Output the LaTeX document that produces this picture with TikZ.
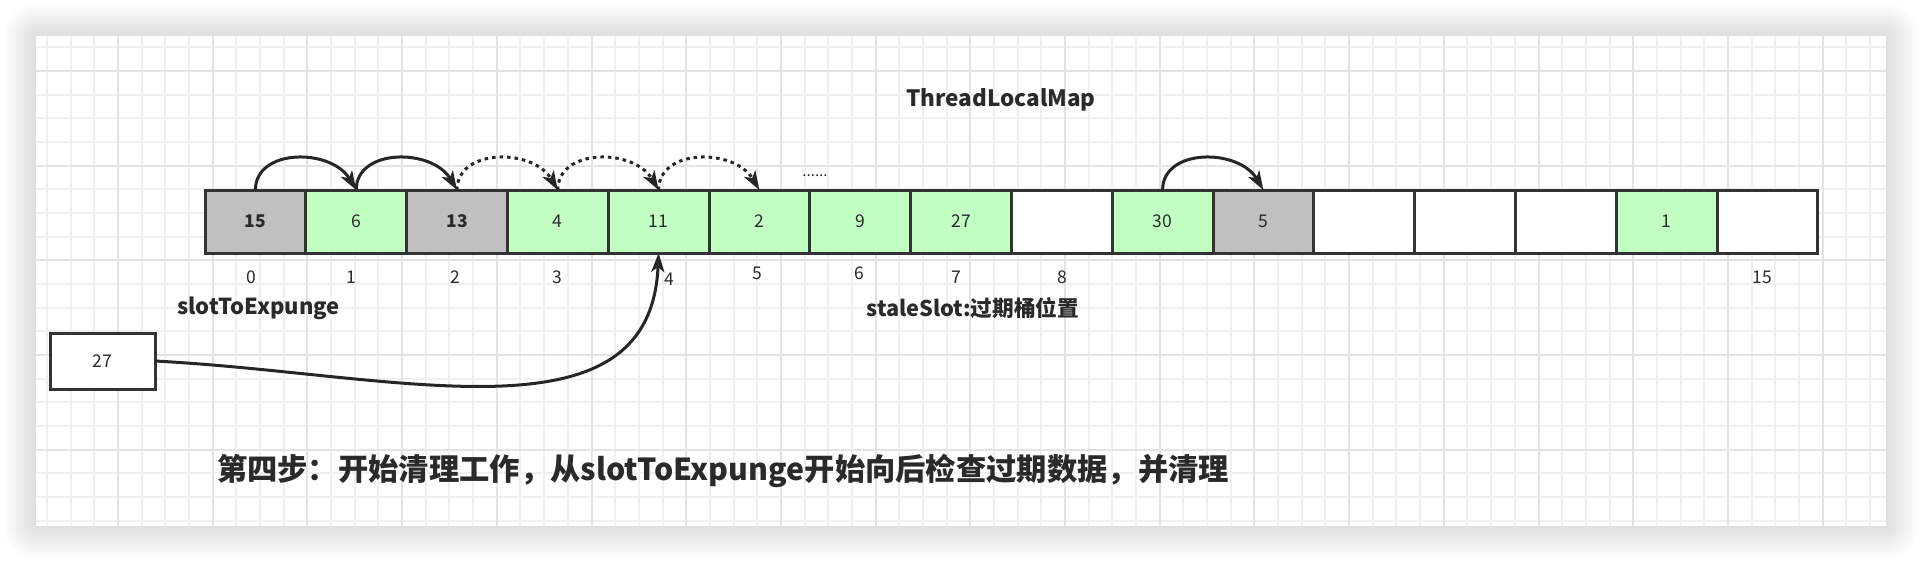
\documentclass[tikz,border=0pt]{standalone}
\usepackage{fontspec}
\setmainfont{Noto Sans CJK SC}
\usetikzlibrary{arrows.meta}
\definecolor{cellgreen}{HTML}{C2FFC2}
\definecolor{cellgray}{HTML}{C0C0C0}
\definecolor{edgecol}{HTML}{333333}
\definecolor{txt}{HTML}{2A2A2A}
\definecolor{gridminor}{HTML}{F0F0F0}
\definecolor{gridmajor}{HTML}{E3E3E3}
\begin{document}
\begin{tikzpicture}[x=1pt,y=-1pt,
  cellbox/.style={draw=edgecol, line width=3pt, minimum width=100.8pt, minimum height=63pt,
    inner sep=0pt, outer sep=0pt, font=\fontsize{17.5pt}{20pt}\selectfont, text=txt},
  gcell/.style={cellbox, fill=cellgreen},
  ycell/.style={cellbox, fill=cellgray},
  wcell/.style={cellbox, fill=white},
  idxlbl/.style={inner sep=0pt, font=\fontsize{17.5pt}{20pt}\selectfont, text=txt},
  boldlbl/.style={inner sep=0pt, font=\fontsize{22pt}{25pt}\selectfont\bfseries, text=txt},
  arr/.style={draw=black!85, line width=3pt, -{Stealth[length=19pt,width=13pt,inset=5pt]}},
  dotarr/.style={arr, dash pattern=on 3.5pt off 4pt}
]
\useasboundingbox (0,0) rectangle (1922,562);
\fill[white] (0,0) rectangle (1922,562);
% shadow
\foreach \i in {1,...,16} {
  \pgfmathsetmacro\r{2*\i}
  \fill[black,opacity=0.009,rounded corners=\r pt] ({36-2*\i},{36-2*\i}) rectangle ({1886+2*\i},{526+2*\i});
}
% canvas
\fill[white] (36,36) rectangle (1886,526);
\foreach \k in {-3,...,74} {
  \draw[gridminor, line width=2pt] ({118+23.675*\k},36) -- ({118+23.675*\k},526);
}
\foreach \k in {-1,...,19} {
  \draw[gridminor, line width=2pt] (36,{71+23.675*\k}) -- (1886,{71+23.675*\k});
}
\foreach \k in {0,4,...,72} {
  \draw[gridmajor, line width=2pt] ({118+23.675*\k},36) -- ({118+23.675*\k},526);
}
\foreach \k in {0,4,...,16} {
  \draw[gridmajor, line width=2pt] (36,{71+23.675*\k}) -- (1886,{71+23.675*\k});
}
% cells
\node[ycell] (c0) at (255.4,221.5) {\bfseries 15};
\node[gcell] (c1) at (356.2,221.5) {6};
\node[ycell] (c2) at (457.0,221.5) {\bfseries 13};
\node[gcell] (c3) at (557.8,221.5) {4};
\node[gcell] (c4) at (658.6,221.5) {11};
\node[gcell] (c5) at (759.4,221.5) {2};
\node[gcell] (c6) at (860.2,221.5) {9};
\node[gcell] (c7) at (961.0,221.5) {27};
\node[wcell] (c8) at (1061.8,221.5) {};
\node[gcell] (c9) at (1162.6,221.5) {30};
\node[ycell] (c10) at (1263.4,221.5) {5};
\node[wcell] (c11) at (1364.2,221.5) {};
\node[wcell] (c12) at (1465.0,221.5) {};
\node[wcell] (c13) at (1565.8,221.5) {};
\node[gcell] (c14) at (1666.6,221.5) {1};
\node[wcell] (c15) at (1767.4,221.5) {};
% index labels
\node[idxlbl] (i0) at (251,277) {0};
\node[idxlbl] (i1) at (351,277) {1};
\node[idxlbl] (i2) at (455,277) {2};
\node[idxlbl] (i3) at (557,277) {3};
\node[idxlbl] (i4) at (669,279) {4};
\node[idxlbl] (i5) at (757,273) {5};
\node[idxlbl] (i6) at (859,273) {6};
\node[idxlbl] (i7) at (956,277) {7};
\node[idxlbl] (i8) at (1062,277) {8};
\node[idxlbl] (i15) at (1762,277) {15};
% texts
\node[boldlbl, font=\fontsize{22.5pt}{26pt}\selectfont\bfseries] (title) at (1001,100) {ThreadLocalMap};
\node[boldlbl] (stx) at (258.5,308) {slotToExpunge};
\node[boldlbl, font=\fontsize{21.7pt}{25pt}\selectfont\bfseries] (stale) at (973,308) {staleSlot:过期桶位置};
\node[idxlbl, font=\fontsize{15pt}{18pt}\selectfont] (dots) at (815,176) {......};
\node[boldlbl, font=\fontsize{30.3pt}{34pt}\selectfont\bfseries] (caption) at (723,471) {第四步：开始清理工作，从slotToExpunge开始向后检查过期数据，并清理};
% box 27
\node[cellbox, fill=white, minimum width=105pt, minimum height=56pt] (b27) at (102.5,361) {27};
% arcs
\draw[arr] (c0.north) .. controls +(0,-42) and +(-25,-42) .. (c1.north);
\draw[arr] (c1.north) .. controls +(0,-42) and +(-25,-42) .. (c2.north);
\draw[dotarr] (c2.north) .. controls +(0,-42) and +(-25,-42) .. (c3.north);
\draw[dotarr] (c3.north) .. controls +(0,-42) and +(-25,-42) .. (c4.north);
\draw[dotarr] (c4.north) .. controls +(0,-42) and +(-25,-42) .. (c5.north);
\draw[arr] (c9.north) .. controls +(0,-42) and +(-25,-42) .. (c10.north);
\draw[arr] (b27.east) .. controls +(245,13) and +(-8,194) .. (c4.south);
\end{tikzpicture}
\end{document}
